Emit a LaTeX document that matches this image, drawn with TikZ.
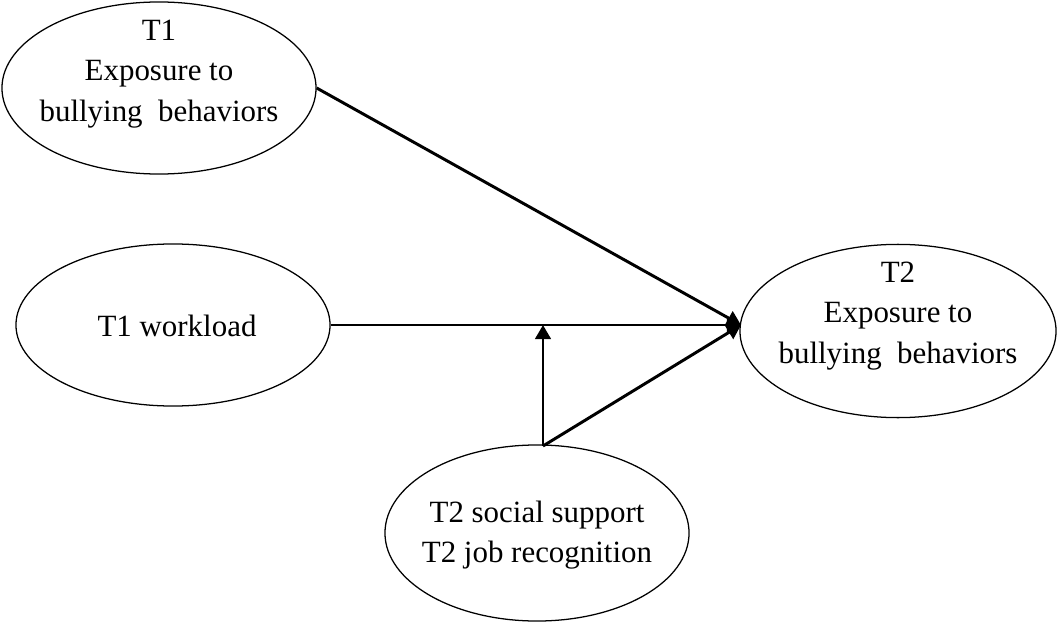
\documentclass[tikz,border=0pt]{standalone}
\usepackage{fontspec}
\setmainfont{Liberation Serif}
\usepackage{tikz}
\usetikzlibrary{shapes.geometric, arrows.meta}

\tikzset{
  var/.style={ellipse, draw, line width=0.9pt, inner sep=0pt},
  txt/.style={align=center, inner sep=0pt, font=\fontsize{22}{29}\selectfont},
  path/.style={-{Triangle[length=10pt,width=11pt]}, line width=2.1pt},
}

\begin{document}
\begin{tikzpicture}[x=0.025cm, y=-0.025cm]
\useasboundingbox (0,0) rectangle (1059,623);
% latent variables
\node[var, minimum width=7.85cm, minimum height=4.3cm] (bully1) at (159,88) {};
\node[txt] (bully1txt) at (159,74) {T1\\Exposure to\\bullying~ behaviors};
\node[var, minimum width=7.85cm, minimum height=4.05cm] (work) at (173,325) {};
\node[txt] (worktxt) at (177,326) {T1 workload};
\node[var, minimum width=7.9cm, minimum height=4.33cm] (bully2) at (898,331) {};
\node[txt] (bully2txt) at (898,316) {T2\\Exposure to\\bullying~ behaviors};
\node[var, minimum width=7.6cm, minimum height=4.4cm] (mod) at (537,533) {};
\node[txt] (modtxt) at (537,535) {T2 social support\\T2 job recognition};
\coordinate (tip) at (741,325);
\coordinate (cross) at (543,325);
\coordinate (base) at (543,446);
% paths
\draw[path] (bully1.east) -- (tip);
\draw[path] (work) -- (tip);
\draw[path] (base) -- (cross);
\draw[path] (base) -- (tip);
\end{tikzpicture}
\end{document}
